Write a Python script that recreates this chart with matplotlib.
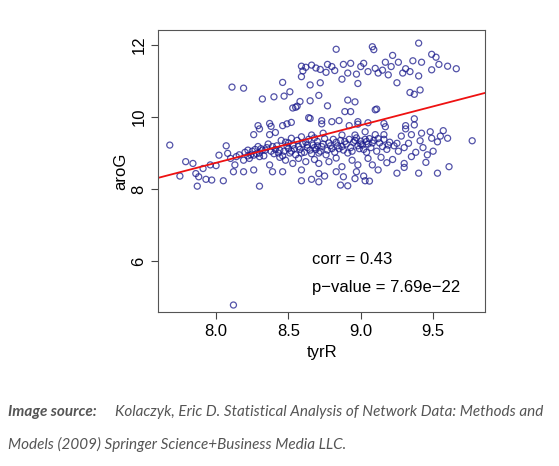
import numpy as np
import matplotlib.pyplot as plt

# points (tyrR, aroG)
pts = [
    # upper cluster
    (9.40, 12.05), (9.08, 11.95), (9.09, 11.87), (8.83, 11.88), (9.49, 11.74), (9.52, 11.66),
    (9.22, 11.71), (8.59, 11.41), (8.66, 11.44), (8.77, 11.46), (8.88, 11.46), (8.93, 11.49),
    (9.02, 11.49), (9.17, 11.52), (9.26, 11.52), (9.36, 11.56), (9.42, 11.52), (9.54, 11.46),
    (9.60, 11.41), (9.66, 11.34), (9.49, 11.31), (8.72, 11.32), (8.82, 11.29), (8.91, 11.22),
    (8.97, 11.19), (9.05, 11.26), (9.12, 11.22), (9.19, 11.17), (9.29, 11.22), (9.34, 11.26),
    (9.40, 11.14), (8.59, 11.12), (8.65, 10.89), (8.72, 10.95), (8.87, 11.05), (8.98, 10.93),
    (9.25, 10.95), (9.34, 10.68), (9.41, 10.75), (9.37, 10.63), (8.46, 10.96), (8.51, 10.70),
    (8.11, 10.83), (8.19, 10.80), (8.62, 11.38), (8.69, 11.36), (8.80, 11.40), (9.00, 11.40),
    (9.10, 11.35), (9.21, 11.40), (9.31, 11.34), (8.60, 11.28), (8.76, 11.24), (9.15, 11.30),
    # middle
    (8.32, 10.50), (8.40, 10.56), (8.47, 10.58), (8.58, 10.43), (8.65, 10.45), (8.71, 10.60),
    (8.55, 10.27), (8.91, 10.47), (8.96, 10.42), (8.77, 10.31), (8.89, 10.15), (8.93, 10.15),
    (9.10, 10.20), (8.65, 9.96), (8.85, 9.90), (8.98, 9.80), (9.05, 9.84), (9.17, 9.73),
    (9.37, 9.95), (8.49, 9.81), (8.38, 9.74), (8.30, 9.67), (8.73, 9.81), (9.31, 9.67),
    (8.56, 10.30), (9.11, 10.22), (8.64, 9.98), (8.53, 10.25),
    (8.29, 9.76), (8.37, 9.82), (8.46, 9.76), (8.52, 9.85), (8.73, 9.90), (8.80, 9.87),
    (8.92, 9.76), (8.98, 9.87), (9.16, 9.82), (9.31, 9.76), (9.37, 9.78),
    (7.68, 9.22), (9.77, 9.34),
    (8.26, 9.51), (8.37, 9.51), (8.41, 9.57), (8.52, 9.41), (8.59, 9.45), (8.66, 9.50),
    (8.74, 9.55), (8.87, 9.50), (8.96, 9.50), (9.03, 9.59), (9.10, 9.51), (9.16, 9.51),
    (9.28, 9.47), (9.35, 9.51), (9.42, 9.55), (9.48, 9.59), (9.57, 9.62), (9.55, 9.47),
    (9.60, 9.41), (9.49, 9.41), (9.41, 9.34), (9.53, 9.31), (9.33, 9.27), (9.25, 9.27),
    (9.43, 9.15),
    # dense band
    (8.20, 9.02), (8.24, 8.95), (8.27, 9.10), (8.30, 9.00), (8.33, 8.92), (8.35, 9.15),
    (8.38, 9.05), (8.40, 8.98), (8.42, 9.20), (8.44, 9.08), (8.46, 8.92), (8.48, 9.30),
    (8.50, 9.12), (8.51, 9.00), (8.53, 9.22), (8.55, 8.95), (8.56, 9.35), (8.58, 9.10),
    (8.60, 9.25), (8.61, 9.02), (8.63, 9.15), (8.64, 9.38), (8.66, 8.98), (8.67, 9.22),
    (8.69, 9.10), (8.70, 9.32), (8.72, 9.05), (8.73, 9.18), (8.75, 9.40), (8.76, 8.95),
    (8.78, 9.28), (8.80, 9.12), (8.82, 9.02), (8.84, 9.20), (8.86, 9.35), (8.88, 9.08),
    (8.90, 9.25), (8.92, 9.38), (8.93, 9.15), (8.95, 9.30), (8.97, 9.42), (8.98, 9.20),
    (9.00, 9.33), (9.02, 9.10), (9.03, 9.38), (9.05, 9.25), (9.07, 9.15), (9.09, 9.35),
    (9.11, 9.05), (9.13, 9.28), (9.15, 9.18), (9.18, 9.10), (9.20, 9.30), (9.23, 9.20),
    (8.36, 9.25), (8.45, 9.35), (8.62, 9.30), (8.68, 9.42), (8.81, 9.38), (8.94, 9.05),
    (9.01, 9.22), (9.06, 9.40), (8.52, 9.05), (8.57, 9.18), (8.71, 9.00), (8.85, 9.12),
    (8.29, 9.18), (8.34, 9.08), (8.43, 9.00), (8.49, 9.20), (8.65, 9.08), (8.79, 9.20),
    (8.91, 9.00), (8.99, 9.12), (9.04, 9.02), (9.16, 9.38), (9.26, 9.05), (9.30, 9.15),
    (8.25, 9.05), (8.31, 9.12), (8.39, 9.18), (8.47, 9.05), (8.54, 9.12), (8.59, 9.00),
    (8.63, 9.22), (8.68, 9.15), (8.74, 9.25), (8.77, 9.08), (8.83, 9.30), (8.87, 9.18),
    (8.96, 9.35), (9.00, 9.25), (9.04, 9.32), (9.08, 9.28), (9.12, 9.40), (9.19, 9.22),
    (8.22, 8.92), (8.28, 8.98), (8.41, 9.10), (8.50, 9.28), (8.70, 9.20), (8.89, 9.32),
    # left and lower part
    (7.79, 8.76), (7.84, 8.71), (7.75, 8.36), (7.87, 8.08), (7.86, 8.43), (7.88, 8.34),
    (7.93, 8.27), (7.97, 8.25), (8.05, 8.23), (7.91, 8.57), (7.96, 8.67), (8.00, 8.65),
    (8.02, 8.94), (8.07, 9.20), (8.08, 8.99), (8.12, 8.48), (8.13, 8.67), (8.19, 8.48),
    (8.26, 8.53), (8.14, 8.90), (8.19, 8.80), (8.22, 9.08), (8.26, 8.94), (8.30, 8.90),
    (8.32, 9.08), (8.10, 8.85), (8.16, 8.95), (8.23, 8.85), (8.30, 8.08),
    (8.39, 8.48), (8.46, 8.48), (8.59, 8.53), (8.59, 8.23), (8.66, 8.27), (8.71, 8.43),
    (8.75, 8.36), (8.71, 8.20), (8.83, 8.48), (8.87, 8.62), (8.86, 8.11), (8.91, 8.09),
    (8.88, 8.34), (8.96, 8.29), (9.02, 8.36), (9.03, 8.23), (9.06, 8.22), (8.97, 8.48),
    (8.98, 8.67), (9.08, 8.67), (9.12, 8.53), (9.18, 8.73), (9.25, 8.44), (9.30, 8.60),
    (9.30, 8.71), (9.40, 8.44), (9.45, 8.74), (9.53, 8.44), (9.61, 8.62), (8.78, 8.76),
    (8.71, 8.71), (8.62, 8.76), (8.53, 8.71), (8.48, 8.80), (8.37, 8.67),
    (8.44, 8.88), (8.57, 8.85), (8.68, 8.82), (8.83, 8.86), (8.94, 8.80), (9.05, 8.85),
    (9.14, 8.88), (9.22, 8.82), (9.35, 8.90), (9.46, 8.95), (9.50, 9.05), (9.38, 9.02),
    (8.12, 4.78),
]
tyrR = np.array([p[0] for p in pts])
aroG = np.array([p[1] for p in pts])

# fitted line as shown in the reference
slope, intercept = 1.044, 0.376
corr_txt = "corr = 0.43"
pval_txt = "p\u2212value = 7.69e\u221222"

plt.rcParams['font.family'] = ['Liberation Sans', 'DejaVu Sans']
fig = plt.figure(figsize=(5.59, 4.66), dpi=100)
ax = fig.add_axes([0.283, 0.330, 0.585, 0.606])

ax.scatter(tyrR, aroG, s=19, facecolors='none', edgecolors='#1a1a8c', linewidths=0.9, alpha=0.75)
xl = np.array([7.6, 9.86])
ax.plot(xl, slope * xl + intercept, color='#ee1111', lw=1.3)

ax.set_xlim(7.6, 9.86)
ax.set_ylim(4.58, 12.42)
ax.set_xticks([8.0, 8.5, 9.0, 9.5])
ax.set_xticklabels(['8.0', '8.5', '9.0', '9.5'])
ax.set_yticks([6, 8, 10, 12])
ax.set_yticklabels(['6', '8', '10', '12'], rotation=90, va='center')
ax.tick_params(labelsize=12, length=5, color='#444444')
for s in ax.spines.values():
    s.set_color('#555555')
ax.set_xlabel('tyrR', fontsize=12)
ax.set_ylabel('aroG', fontsize=12, labelpad=2)

ax.text(8.66, 6.05, corr_txt, fontsize=12, va='center')
ax.text(8.66, 5.28, pval_txt, fontsize=12, va='center')

fig.text(0.014, 0.108, 'Image source:', fontsize=11, style='italic', weight='bold',
         color='#555555', family='Lato')
fig.text(0.205, 0.108, 'Kolaczyk, Eric D. Statistical Analysis of Network Data: Methods and',
         fontsize=11, style='italic', color='#555555', family='Lato')
fig.text(0.014, 0.037, 'Models (2009) Springer Science+Business Media LLC.',
         fontsize=11, style='italic', color='#555555', family='Lato')

fig.savefig('out.png', dpi=100)
